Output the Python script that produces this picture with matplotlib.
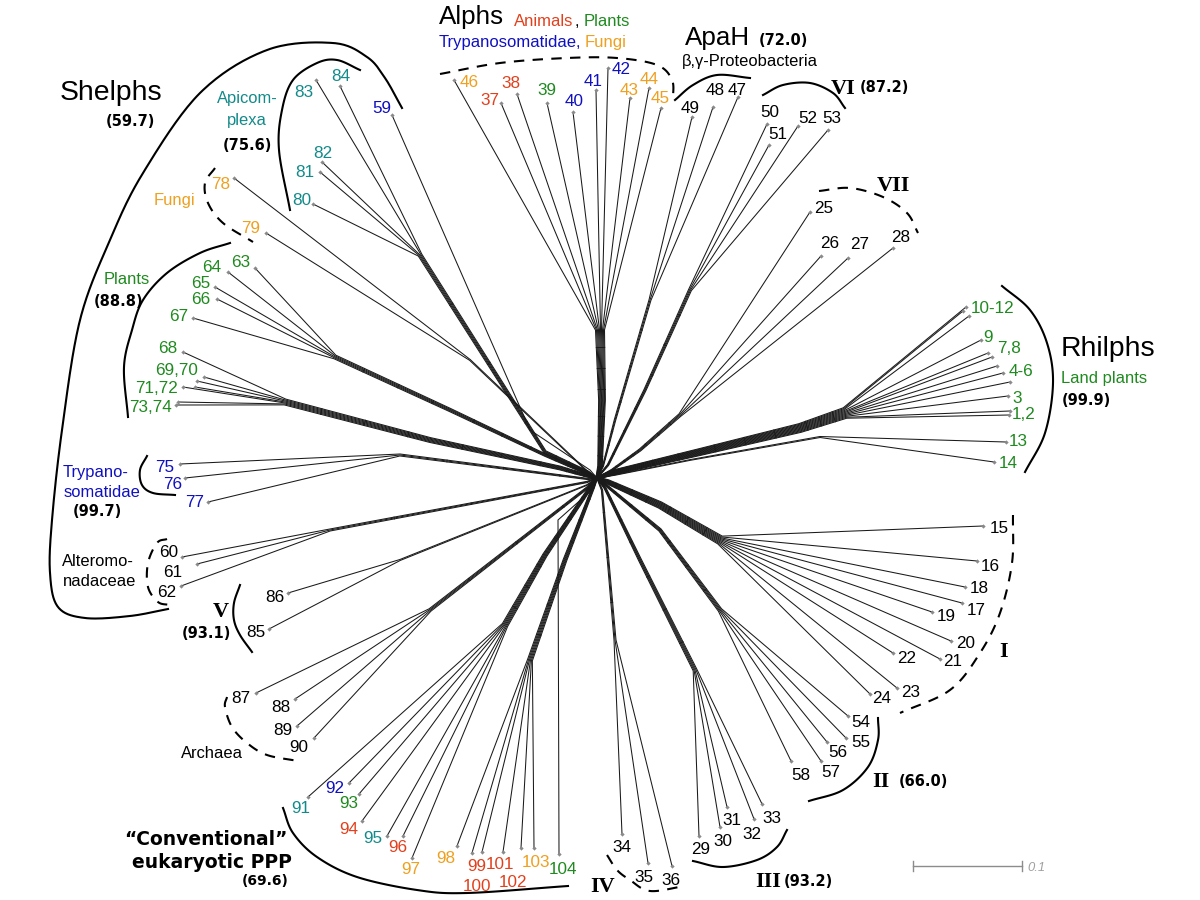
import numpy as np
import matplotlib.pyplot as plt
from matplotlib import font_manager

# leaf entries: (label, dot positions, label centre x, label centre y, colour key)
rhilphs_a = [("10-12", [(966, 307), (969, 316), (963, 311)], 993, 307, 'g'),
             ("9", [(981, 340)], 988, 336, 'g'),
             ("7,8", [(988, 353), (992, 357)], 1009, 347, 'g'),
             ("4-6", [(997, 366), (1003, 373), (1010, 382)], 1021, 370, 'g'),
             ("3", [(1008, 396)], 1017, 397, 'g'),
             ("1,2", [(1010, 411), (1009, 415)], 1024, 413, 'g')]
rhilphs_b = [("13", [(1006, 442)], 1018, 440, 'g'),
             ("14", [(994, 462)], 1008, 462, 'g')]
group_i = [("15", [(983, 526)], 999, 527, 'k'), ("16", [(977, 561)], 990, 565, 'k'),
           ("18", [(965, 587)], 979, 587, 'k'), ("17", [(962, 603)], 976, 609, 'k'),
           ("19", [(932, 612)], 946, 615, 'k'), ("20", [(951, 641)], 966, 642, 'k'),
           ("21", [(940, 659)], 953, 660, 'k'), ("22", [(893, 653)], 907, 657, 'k'),
           ("23", [(897, 688)], 911, 691, 'k'), ("24", [(870, 694)], 882, 697, 'k')]
group_ii = [("54", [(848, 716)], 861, 721, 'k'), ("55", [(846, 738)], 861, 741, 'k'),
            ("56", [(827, 742)], 838, 751, 'k'), ("57", [(821, 761)], 831, 771, 'k'),
            ("58", [(791, 761)], 801, 774, 'k')]
group_iii = [("29", [(699, 836)], 701, 848, 'k'), ("30", [(720, 827)], 723, 840, 'k'),
             ("31", [(727, 807)], 732, 819, 'k'), ("32", [(754, 819)], 752, 833, 'k'),
             ("33", [(762, 804)], 772, 817, 'k')]
group_iv = [("34", [(622, 834)], 622, 846, 'k'), ("35", [(648, 863)], 644, 876, 'k'),
            ("36", [(672, 866)], 671, 879, 'k')]
conv_a = [("91", [(308, 797)], 301, 807, 't'), ("92", [(349, 783)], 335, 787, 'b'),
          ("93", [(359, 794)], 349, 802, 'g'), ("94", [(362, 821)], 349, 828, 'r'),
          ("95", [(387, 836)], 373, 837, 't'), ("96", [(403, 836)], 398, 846, 'r'),
          ("97", [(412, 858)], 411, 868, 'o')]
conv_b = [("98", [(457, 846)], 446, 857, 'o'), ("99", [(472, 853)], 477, 865, 'r'),
          ("100", [(482, 852)], 477, 885, 'r'), ("101", [(503, 852)], 500, 863, 'r'),
          ("102", [(521, 848)], 513, 881, 'r'), ("103", [(534, 848)], 536, 861, 'o')]
solo_104 = [("104", [(559, 854)], 563, 868, 'g')]
archaea = [("87", [(256, 693)], 241, 697, 'k'), ("88", [(295, 699)], 281, 706, 'k'),
           ("89", [(297, 726)], 283, 729, 'k'), ("90", [(314, 738)], 299, 746, 'k')]
group_v = [("85", [(269, 629)], 256, 631, 'k'), ("86", [(288, 593)], 275, 596, 'k')]
altero = [("60", [(182, 557)], 169, 551, 'k'), ("61", [(197, 564)], 173, 571, 'k'),
          ("62", [(181, 586)], 167, 591, 'k')]
trypano = [("75", [(180, 464)], 165, 466, 'b'), ("76", [(185, 478)], 173, 483, 'b'),
           ("77", [(208, 502)], 195, 501, 'b')]
plants_a = [("63", [(255, 268)], 241, 261, 'g'), ("64", [(228, 272)], 212, 266, 'g'),
            ("65", [(215, 287)], 201, 282, 'g'), ("66", [(217, 299)], 201, 298, 'g'),
            ("67", [(193, 318)], 179, 315, 'g')]
plants_b = [("68", [(183, 352)], 168, 347, 'g'),
            ("69,70", [(204, 377), (197, 381)], 177, 369, 'g'),
            ("71,72", [(183, 387), (195, 387)], 157, 387, 'g'),
            ("73,74", [(178, 402), (176, 405)], 150, 406, 'g')]
fungi = [("78", [(234, 178)], 221, 183, 'o'), ("79", [(266, 233)], 251, 227, 'o')]
apicom = [("80", [(313, 204)], 302, 199, 't'), ("81", [(320, 172)], 305, 171, 't'),
          ("82", [(322, 162)], 323, 152, 't'), ("83", [(316, 80)], 304, 91, 't'),
          ("84", [(340, 86)], 341, 75, 't')]
solo_59 = [("59", [(392, 115)], 382, 107, 'b')]
alphs = [("46", [(454, 80)], 469, 81, 'o'), ("37", [(501, 103)], 490, 99, 'r'),
         ("38", [(517, 94)], 511, 82, 'r'), ("39", [(547, 103)], 547, 89, 'g'),
         ("40", [(573, 112)], 574, 100, 'b'), ("41", [(596, 90)], 593, 80, 'b'),
         ("42", [(608, 68)], 621, 68, 'b'), ("43", [(630, 98)], 629, 89, 'o'),
         ("44", [(649, 88)], 649, 78, 'o'), ("45", [(661, 108)], 660, 97, 'o')]
apah = [("49", [(692, 117)], 690, 107, 'k'), ("48", [(713, 107)], 715, 89, 'k'),
        ("47", [(738, 97)], 737, 89, 'k')]
group_vi = [("50", [(767, 124)], 770, 111, 'k'), ("51", [(769, 145)], 778, 133, 'k'),
            ("52", [(798, 126)], 808, 117, 'k'), ("53", [(828, 130)], 832, 117, 'k')]
group_vii = [("25", [(810, 212)], 824, 207, 'k'), ("26", [(821, 256)], 830, 242, 'k'),
             ("27", [(848, 258)], 860, 243, 'k'), ("28", [(893, 248)], 901, 236, 'k')]

# centre of the network and the points where each group's edges merge on the way in
CENTRE = (597, 478)
bundle_paths = [
    (rhilphs_a, [(845, 413), (800, 428), (700, 452), (615, 472)]),
    (rhilphs_b, [(820, 437), (690, 460), (615, 475)]),
    (group_vii, [(680, 415), (640, 450), (612, 470)]),
    (group_vi, [(690, 290), (645, 390), (608, 465)]),
    (apah, [(650, 300), (615, 420), (603, 466)]),
    (alphs, [(600, 330), (602, 400), (600, 466)]),
    (apicom, [(420, 255), (545, 452), (588, 472)]),
    (solo_59, [(530, 430), (590, 470)]),
    (fungi, [(470, 360), (588, 472)]),
    (plants_a, [(335, 357), (450, 410), (545, 455), (588, 474)]),
    (plants_b, [(285, 402), (430, 440), (560, 468), (588, 476)]),
    (trypano, [(400, 455), (588, 479)]),
    (altero, [(330, 530), (587, 482)]),
    (group_v, [(400, 560), (587, 485)]),
    (archaea, [(430, 610), (587, 488)]),
    (conv_a, [(505, 625), (545, 555), (590, 488)]),
    (conv_b, [(530, 660), (565, 560), (593, 488)]),
    (solo_104, [(558, 520), (594, 488)]),
    (group_iv, [(615, 640), (602, 490)]),
    (group_iii, [(695, 670), (640, 560), (605, 488)]),
    (group_ii, [(720, 610), (660, 530), (607, 486)]),
    (group_i, [(720, 540), (660, 505), (608, 482)]),
]

# (curve points, dashed)
brackets = [
    ([(402, 108), (385, 78), (367, 57), (333, 43), (267, 50), (200, 93), (143, 173), (110, 240),
      (80, 320), (62, 430), (52, 520), (50, 573), (58, 607), (85, 618), (130, 616), (168, 609)], False),
    ([(290, 210), (279, 150), (282, 110), (293, 80), (317, 63), (337, 60), (360, 70)], False),
    ([(215, 168), (205, 183), (208, 203), (223, 223), (253, 242)], True),
    ([(230, 243), (200, 253), (167, 273), (143, 300), (132, 330), (124, 367), (128, 417)], False),
    ([(147, 456), (140, 470), (142, 485), (153, 493), (175, 495)], False),
    ([(167, 539), (157, 543), (148, 563), (148, 587), (158, 602), (170, 605)], True),
    ([(240, 585), (234, 603), (234, 620), (240, 635), (252, 652)], False),
    ([(227, 697), (225, 707), (232, 727), (247, 743), (267, 755), (298, 761)], True),
    ([(283, 808), (293, 833), (317, 857), (357, 877), (417, 890), (467, 893), (568, 886)], False),
    ([(607, 855), (617, 870), (630, 880), (650, 891), (685, 886)], True),
    ([(693, 861), (723, 867), (757, 860), (777, 847), (787, 830)], False),
    ([(878, 718), (878, 740), (868, 767), (843, 790), (809, 801)], False),
    ([(1013, 515), (1012, 563), (1000, 613), (980, 653), (950, 690), (900, 713)], True),
    ([(1002, 286), (1030, 310), (1047, 343), (1053, 383), (1045, 433), (1025, 472)], False),
    ([(819, 191), (850, 188), (883, 197), (907, 213), (918, 233)], True),
    ([(763, 95), (783, 85), (810, 83), (833, 93), (845, 108)], False),
    ([(675, 100), (693, 85), (717, 75), (750, 78)], False),
    ([(440, 74), (500, 63), (567, 58), (617, 58), (657, 65), (672, 80), (673, 100)], True),
]

COL = {'k': 'black', 'g': '#1f8a1f', 'r': '#e2401c', 'b': '#1010c0',
       'o': '#eea020', 't': '#138a8a'}

installed = {f.name for f in font_manager.fontManager.ttflist}
if 'Liberation Sans Narrow' in installed:
    NARROW, NS = 'Liberation Sans Narrow', 1.0
else:
    NARROW, NS = 'Liberation Sans', 0.85
SANS = 'Liberation Sans'
SERIF = 'Liberation Serif'

fig = plt.figure(figsize=(12, 9), dpi=100)
ax = fig.add_axes([0, 0, 1, 1])
ax.set_xlim(0, 1200)
ax.set_ylim(900, 0)
ax.axis('off')


def put(x, y, s, size, color='black', family=None, weight='normal', ha='center',
        style='normal', k=0.358):
    fam = family or NARROW
    if fam == NARROW:
        size *= NS
    ax.text(x, y + k * size * 100 / 72, s, fontsize=size, color=color, family=fam,
            weight=weight, ha=ha, va='baseline', style=style, zorder=5)


def offset_path(p, off):
    segs = np.diff(p, axis=0)
    nrm = np.stack([-segs[:, 1], segs[:, 0]], 1)
    nrm /= np.linalg.norm(nrm, axis=1, keepdims=True)
    vn = np.vstack([nrm[0], (nrm[:-1] + nrm[1:]) / 2, nrm[-1]])
    taper = np.linspace(1, 0.25, len(p))[:, None]
    return p + vn * off * taper


def smooth(pts, n=20):
    p = np.array(pts, float)
    p = np.vstack([2 * p[0] - p[1], p, 2 * p[-1] - p[-2]])
    out = []
    t = np.linspace(0, 1, n, endpoint=False)[:, None]
    for i in range(1, len(p) - 2):
        p0, p1, p2, p3 = p[i - 1], p[i], p[i + 1], p[i + 2]
        out.append(0.5 * (2 * p1 + (-p0 + p2) * t + (2 * p0 - 5 * p1 + 4 * p2 - p3) * t ** 2
                          + (-p0 + 3 * p1 - 3 * p2 + p3) * t ** 3))
    out.append(p[-2][None])
    return np.vstack(out)


# network edges
for leaves, path in bundle_paths:
    p = np.array(path + [CENTRE], float)
    dots = np.array([d for lf in leaves for d in lf[1]], float)
    d0 = p[1] - p[0]
    n0 = np.array([-d0[1], d0[0]]) / np.hypot(*d0)
    order = np.argsort((dots - p[0]) @ n0)
    m = len(dots)
    offs = (np.arange(m) - (m - 1) / 2) * 1.0
    tracks = []
    for rank, idx in enumerate(order):
        tr = offset_path(p, offs[rank])
        tracks.append(tr)
        line = np.vstack([dots[idx], tr])
        ax.plot(line[:, 0], line[:, 1], color='#1a1a1a', lw=0.75, zorder=2,
                solid_capstyle='butt')
    tracks = np.array(tracks)
    if m >= 3:
        for j in range(len(p) - 2):
            for f in (0.25, 0.55, 0.85):
                q = tracks[:, j] + f * (tracks[:, j + 1] - tracks[:, j])
                ax.plot(q[:, 0], q[:, 1], color='#1a1a1a', lw=0.7, zorder=2)
    ax.plot(dots[:, 0], dots[:, 1], 'D', ms=2.2, color='#8a8a8a', mew=0, zorder=3)

# leaf labels
for leaves, _ in bundle_paths:
    for name, _, lx, ly, c in leaves:
        put(lx, ly, name, 14.5, color=COL[c])

# group brackets
for pts, dashed in brackets:
    cv = smooth(pts)
    ax.plot(cv[:, 0], cv[:, 1], color='black', lw=1.5,
            ls=(0, (5, 4)) if dashed else '-', zorder=4)

# group names
BOLD = dict(family='DejaVu Sans', weight='bold')
put(111, 90, "Shelphs", 24)
put(130, 121, "(59.7)", 10.5, **BOLD)
put(247, 97, "Apicom-", 14, color=COL['t'])
put(247, 119, "plexa", 14, color=COL['t'])
put(247, 145, "(75.6)", 10.5, **BOLD)
put(174, 199, "Fungi", 14, color=COL['o'])
put(127, 278, "Plants", 14, color=COL['g'])
put(119, 301, "(88.8)", 10.5, **BOLD)
put(96, 471, "Trypano-", 14, color=COL['b'])
put(102, 491, "somatidae", 14, color=COL['b'])
put(97, 511, "(99.7)", 10.5, **BOLD)
put(98, 560, "Alteromo-", 14)
put(100, 580, "nadaceae", 14)
put(221, 610, "V", 16, family=SERIF, weight='bold', k=0.331)
put(206, 633, "(93.1)", 10.5, **BOLD)
put(212, 752, "Archaea", 14, family=SANS)
put(287, 838, "\u201cConventional\u201d", 13.5, ha='right', **BOLD)
put(292, 861, "eukaryotic PPP", 13.5, ha='right', **BOLD)
put(265, 880, "(69.6)", 10, **BOLD)
put(603, 885, "IV", 16, family=SERIF, weight='bold', k=0.331)
put(768, 880, "III", 16, family=SERIF, weight='bold', k=0.331)
put(808, 881, "(93.2)", 10.5, **BOLD)
put(881, 780, "II", 16, family=SERIF, weight='bold', k=0.331)
put(923, 781, "(66.0)", 10.5, **BOLD)
put(1004, 650, "I", 16, family=SERIF, weight='bold', k=0.331)
put(1108, 346, "Rhilphs", 24)
put(1104, 377, "Land plants", 14, color=COL['g'], family=SANS)
put(1086, 400, "(99.9)", 10.5, **BOLD)
put(893, 184, "VII", 16, family=SERIF, weight='bold', k=0.331)
put(843, 87, "VI", 16, family=SERIF, weight='bold', k=0.331)
put(884, 87, "(87.2)", 10.5, **BOLD)
put(718, 36, "ApaH", 22, family=SANS)
put(783, 40, "(72.0)", 10.5, **BOLD)
put(750, 60, "\u03b2,\u03b3-Proteobacteria", 14, family=SANS)
put(472, 15, "Alphs", 22, family=SANS)
ax.text(514, 26, "Animals", fontsize=12, color=COL['r'], family=SANS, va='baseline', zorder=5)
ax.text(575, 26, ",", fontsize=12, color='black', family=SANS, va='baseline', zorder=5)
ax.text(584, 26, "Plants", fontsize=12, color=COL['g'], family=SANS, va='baseline', zorder=5)
ax.text(439, 47, "Trypanosomatidae,", fontsize=12, color=COL['b'], family=SANS, va='baseline', zorder=5)
ax.text(585, 47, "Fungi", fontsize=12, color=COL['o'], family=SANS, va='baseline', zorder=5)

# scale bar
ax.plot([913, 1022], [866, 866], color='#8c8c8c', lw=1.0)
ax.plot([913, 913], [861, 871], color='#8c8c8c', lw=1.0)
ax.plot([1022, 1022], [861, 871], color='#8c8c8c', lw=1.0)
put(1027, 866, "0.1", 11, color='#a0a0a0', family=SANS, ha='left', style='italic')

fig.savefig('out.png', dpi=100, facecolor='white')
